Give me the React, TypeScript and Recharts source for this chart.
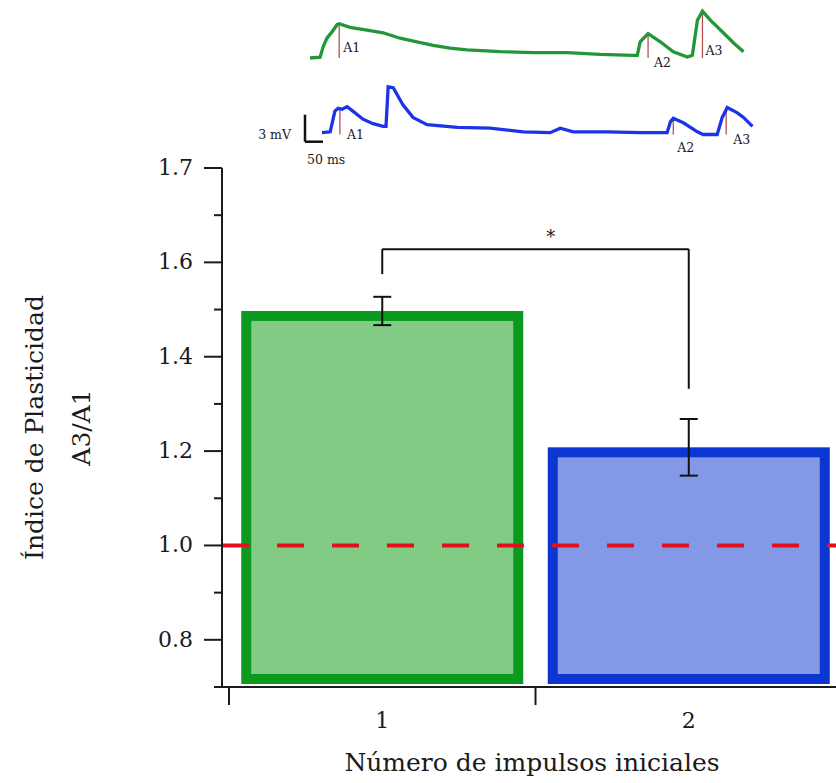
import React from 'react';
import { BarChart, Bar, XAxis, YAxis, ErrorBar, ReferenceLine, LineChart, Line } from 'recharts';

// bar values (A3/A1 plasticity index)
const categories = ['1', '2'];
const plasticityIndex = [1.497, 1.208];
const plasticityError = [0.03, 0.06];

const yTicks = [0.7, 0.8, 0.9, 1.0, 1.1, 1.2, 1.3, 1.4, 1.5, 1.6, 1.7, 1.8];
const yTickLabels = ['', '0.8', '', '1.0', '', '1.2', '', '1.4', '', '1.6', '', '1.7'];

// significance bracket, y values
const bracketLeftFoot = 1.575;
const bracketTop = 1.628;
const bracketRightFoot = 1.332;

// example traces (ms, mV)
const greenTime = [14, 42, 50, 61, 75, 89, 95, 125, 172, 217, 264, 311, 356, 403, 450, 542, 634, 728, 820, 912, 923, 931, 953, 987, 1023, 1062, 1076, 1090, 1104, 1126, 1162, 1190, 1218];
const greenVoltage = [0, 0.1, 1.2, 2.2, 2.9, 3.7, 3.8, 3.4, 3.1, 2.8, 2.2, 1.8, 1.4, 1.1, 0.9, 0.7, 0.6, 0.6, 0.4, 0.3, 0.3, 1.8, 2.7, 1.8, 0.7, 0.1, 0.3, 4.2, 5.2, 4.2, 2.8, 1.7, 0.7];

const blueTime = [47, 70, 83, 92, 103, 117, 133, 161, 189, 217, 225, 231, 245, 272, 300, 339, 423, 514, 606, 681, 709, 745, 840, 931, 1006, 1015, 1023, 1051, 1090, 1106, 1145, 1159, 1173, 1201, 1218, 1243];
const blueVoltage = [0.2, 0.3, 2.6, 2.9, 2.8, 3.1, 2.6, 1.7, 1.2, 0.9, 0.9, 5.3, 5.2, 3.3, 1.9, 1.1, 0.8, 0.7, 0.3, 0.2, 0.7, 0.3, 0.3, 0.2, 0.2, 1.4, 1.8, 1.3, 0.3, 0, 0, 1.9, 3.0, 2.4, 1.9, 0.9];

const markerNames = ['A1', 'A2', 'A3'];
const greenMarkerTime = [95, 953, 1104];
const greenMarkerPeak = [3.8, 2.7, 5.2];
const blueMarkerTime = [97, 1023, 1170];
const blueMarkerPeak = [3.0, 1.8, 3.0];

const scaleBarMv = 3;
const scaleBarMs = 50;

// label placement for A1..A3 (dx, dy from marker foot)
const greenLabelOffset = [[4, -6], [6, 9], [3, -3]];
const blueLabelOffset = [[7, 4], [4, 17], [7, 9]];

const FONT = '"DejaVu Serif", serif';
const INK = '#1a1a1a';
const barEdge = ['#0c9a1e', '#0b36d1'];
const barFill = ['#82cb84', '#8499e6'];

const barData = categories.map((c, i) => ({ category: c, value: plasticityIndex[i], err: plasticityError[i] }));
const greenData = greenTime.map((t, i) => ({ t, v: greenVoltage[i] }));
const blueData = blueTime.map((t, i) => ({ t, v: blueVoltage[i] }));

const FramedBar = (props: any) => {
  const { x, y, width, height, payload } = props;
  const i = categories.indexOf(payload.category);
  const b = 10;
  const h = height - 3;
  return (
    <g>
      <rect x={x} y={y} width={width} height={h} fill={barEdge[i]} />
      <rect x={x + b} y={y + b} width={width - 2 * b} height={h - 2 * b} fill={barFill[i]} />
    </g>
  );
};

const YTick = (props: any) => {
  const { x, y, payload } = props;
  const i = yTicks.indexOf(payload.value);
  const label = i >= 0 ? yTickLabels[i] : '';
  const major = label !== '';
  return (
    <g>
      <line x1={x - (major ? 18 : 8)} y1={y} x2={x} y2={y} stroke={INK} strokeWidth={2} />
      {major && (
        <text x={x - 29} y={y} dy={7} textAnchor="end" fontFamily={FONT} fontSize={22} fill={INK}>
          {label}
        </text>
      )}
    </g>
  );
};

const XTick = (props: any) => {
  const { x, y, payload } = props;
  const off = payload.offset ?? 0;
  return (
    <g>
      <line x1={x - off} y1={y} x2={x - off} y2={y + 18} stroke={INK} strokeWidth={2} />
      <text x={x} y={y + 41} textAnchor="middle" fontFamily={FONT} fontSize={22} fill={INK}>
        {payload.value}
      </text>
    </g>
  );
};

const markerLabel = (name: string, off: number[]) => (p: any) => {
  const vb = p.viewBox;
  return (
    <text x={vb.x + off[0]} y={vb.y + vb.height + off[1]} fontFamily={FONT} fontSize={12.5} fill={INK}>
      {name}
    </text>
  );
};

const Trace = ({ data, color, times, peaks, offsets, domain, withScale }: any) => (
  <LineChart width={520} height={88} data={data} margin={{ top: 0, right: 10, bottom: 25, left: 60 }}>
    <XAxis dataKey="t" type="number" domain={[0, 1250]} hide />
    <YAxis type="number" domain={domain} hide />
    {times.map((t: number, i: number) => (
      <ReferenceLine
        key={markerNames[i]}
        segment={[{ x: t, y: 0 }, { x: t, y: peaks[i] }]}
        stroke="#b5504f"
        strokeWidth={1.3}
        label={markerLabel(markerNames[i], offsets[i])}
      />
    ))}
    <Line type="linear" dataKey="v" stroke={color} strokeWidth={3.3} dot={false} isAnimationActive={false} />
    {withScale && (
      <ReferenceLine
        segment={[{ x: 0, y: -0.8 }, { x: 0, y: -0.8 + scaleBarMv }]}
        stroke="#111"
        strokeWidth={2.5}
        label={(p: any) => (
          <text x={p.viewBox.x - 14} y={p.viewBox.y + p.viewBox.height - 3} textAnchor="end" fontFamily={FONT} fontSize={12.5} fill={INK}>
            {`${scaleBarMv} mV`}
          </text>
        )}
      />
    )}
    {withScale && (
      <ReferenceLine
        segment={[{ x: 0, y: -0.8 }, { x: scaleBarMs, y: -0.8 }]}
        stroke="#111"
        strokeWidth={2.5}
        label={(p: any) => (
          <text x={p.viewBox.x + 2} y={p.viewBox.y + 22} fontFamily={FONT} fontSize={12.5} fill={INK}>
            {`${scaleBarMs} ms`}
          </text>
        )}
      />
    )}
  </LineChart>
);

export default function App() {
  return (
    <div style={{ position: 'absolute', left: 0, top: 0, width: 836, height: 783, overflow: 'hidden', background: '#fff' }}>
      <div style={{ position: 'absolute', left: 245, top: 4 }}>
        <Trace data={greenData} color="#22973a" times={greenMarkerTime} peaks={greenMarkerPeak} offsets={greenLabelOffset} domain={[-1, 6]} />
      </div>
      <div style={{ position: 'absolute', left: 245, top: 85 }}>
        <Trace data={blueData} color="#1d33ea" times={blueMarkerTime} peaks={blueMarkerPeak} offsets={blueLabelOffset} domain={[-1.5, 5.5]} withScale />
      </div>
      <div style={{ position: 'absolute', left: 0, top: 0 }}>
        <BarChart width={860} height={783} data={barData} margin={{ top: 168, right: 18, bottom: 0, left: 142 }} barCategoryGap="4%">
          <XAxis
            dataKey="category"
            height={96}
            padding={{ left: 7, right: 0 }}
            axisLine={{ stroke: INK, strokeWidth: 2 }}
            tickLine={false}
            tickSize={0}
            tickMargin={0}
            tick={<XTick />}
            label={(p: any) => (
              <text x={p.viewBox.x + p.viewBox.width / 2} y={p.viewBox.y + 84} textAnchor="middle" fontFamily={FONT} fontSize={25} fill={INK}>
                Número de impulsos iniciales
              </text>
            )}
          />
          <YAxis
            type="number"
            width={80}
            domain={[0.7, 1.8]}
            ticks={yTicks}
            interval={0}
            axisLine={{ stroke: INK, strokeWidth: 2 }}
            tickLine={false}
            tickSize={0}
            tickMargin={0}
            tick={<YTick />}
            label={(p: any) => {
              const cy = p.viewBox.y + p.viewBox.height / 2;
              const x1 = p.viewBox.x - 108;
              const x2 = p.viewBox.x - 61;
              return (
                <g>
                  <text x={x1} y={cy} transform={`rotate(-90, ${x1}, ${cy})`} textAnchor="middle" dominantBaseline="central" fontFamily={FONT} fontSize={25} fill={INK}>
                    Índice de Plasticidad
                  </text>
                  <text x={x2} y={cy} transform={`rotate(-90, ${x2}, ${cy})`} textAnchor="middle" dominantBaseline="central" fontFamily={FONT} fontSize={25} fill={INK}>
                    A3/A1
                  </text>
                </g>
              );
            }}
          />
          <Bar dataKey="value" shape={<FramedBar />} isAnimationActive={false}>
            <ErrorBar dataKey="err" width={9} stroke="#111" strokeWidth={2} />
          </Bar>
          <ReferenceLine y={1} stroke="#e3101c" strokeWidth={4} strokeDasharray="27 28" />
          <ReferenceLine segment={[{ x: '1', y: bracketLeftFoot }, { x: '1', y: bracketTop }]} stroke="#111" strokeWidth={2} />
          <ReferenceLine
            segment={[{ x: '1', y: bracketTop }, { x: '2', y: bracketTop }]}
            stroke="#111"
            strokeWidth={2}
            label={(p: any) => (
              <text x={p.viewBox.x + p.viewBox.width * 0.55} y={p.viewBox.y - 6} textAnchor="middle" fontFamily={FONT} fontSize={18} fill={INK}>
                *
              </text>
            )}
          />
          <ReferenceLine segment={[{ x: '2', y: bracketTop }, { x: '2', y: bracketRightFoot }]} stroke="#111" strokeWidth={2} />
        </BarChart>
      </div>
    </div>
  );
}
